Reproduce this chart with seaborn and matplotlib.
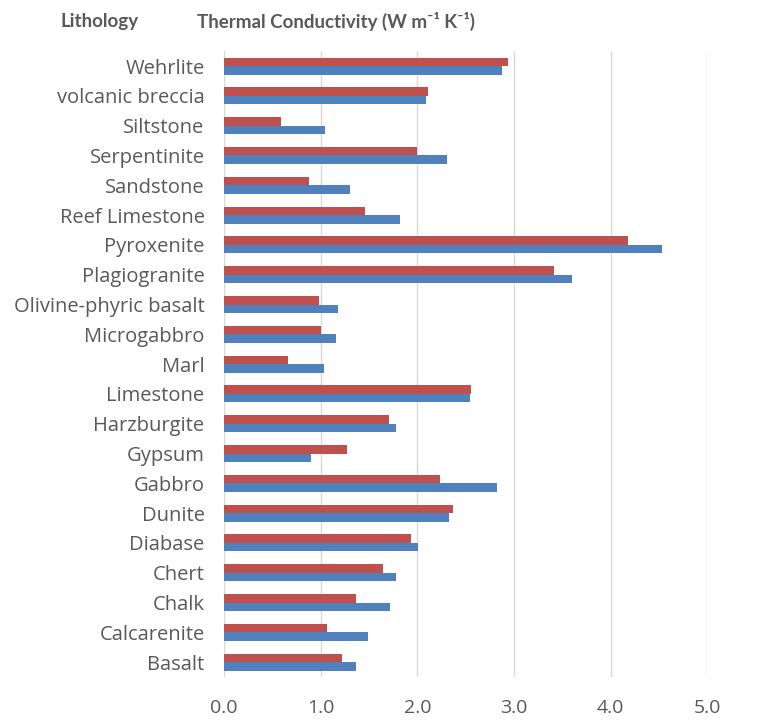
import pandas as pd
import matplotlib.pyplot as plt
import seaborn as sns

# Lithologies, top to bottom as shown
lithology = ["Wehrlite", "volcanic breccia", "Siltstone", "Serpentinite", "Sandstone",
             "Reef Limestone", "Pyroxenite", "Plagiogranite", "Olivine-phyric basalt",
             "Microgabbro", "Marl", "Limestone", "Harzburgite", "Gypsum", "Gabbro",
             "Dunite", "Diabase", "Chert", "Chalk", "Calcarenite", "Basalt"]

# Thermal conductivity values (W m-1 K-1)
series_red = [2.94, 2.11, 0.59, 2.00, 0.88, 1.46, 4.18, 3.42, 0.98, 1.00, 0.66,
              2.56, 1.71, 1.27, 2.24, 2.37, 1.93, 1.65, 1.37, 1.07, 1.22]
series_blue = [2.88, 2.09, 1.04, 2.31, 1.30, 1.82, 4.53, 3.60, 1.18, 1.16, 1.03,
               2.55, 1.78, 0.90, 2.83, 2.33, 2.01, 1.78, 1.72, 1.49, 1.37]

x_ticks = [0, 1, 2, 3, 4, 5]

df = pd.DataFrame({
    "Lithology": lithology * 2,
    "Conductivity": series_red + series_blue,
    "Series": ["Series 1"] * len(lithology) + ["Series 2"] * len(lithology),
})

sns.set_style("white")
plt.rcParams["font.family"] = ["Open Sans", "DejaVu Sans"]
grey = "#595959"

fig = plt.figure(figsize=(7.62, 7.21), dpi=100)
ax = fig.add_axes([0.294, 0.061, 0.634, 0.868])

sns.barplot(data=df, y="Lithology", x="Conductivity", hue="Series", order=lithology,
            palette=["#C0504D", "#4F81BD"], orient="h", width=0.57, legend=False,
            saturation=1, linewidth=0, ax=ax)

ax.set_xlim(0, 5)
ax.set_xticks(x_ticks)
ax.set_xticklabels([f"{t:.1f}" for t in x_ticks], color=grey, fontsize=14)
ax.tick_params(axis="y", labelsize=14.5, labelcolor=grey, length=0, pad=14)
ax.tick_params(axis="x", length=0, pad=16)
ax.set_xlabel("")
ax.set_ylabel("")
ax.grid(axis="x", color="#D9D9D9", linewidth=1)
ax.set_axisbelow(True)
sns.despine(ax=ax, left=True, bottom=True)

head = dict(fontsize=13.5, fontweight="bold", color=grey, va="center",
            family=["Lato", "DejaVu Sans"])
fig.text(0.079, 0.970, "Lithology", **head)
fig.text(0.259, 0.970, "Thermal Conductivity (W m\u207b\u00b9 K\u207b\u00b9)", **head)

fig.savefig("out.png", dpi=100)
